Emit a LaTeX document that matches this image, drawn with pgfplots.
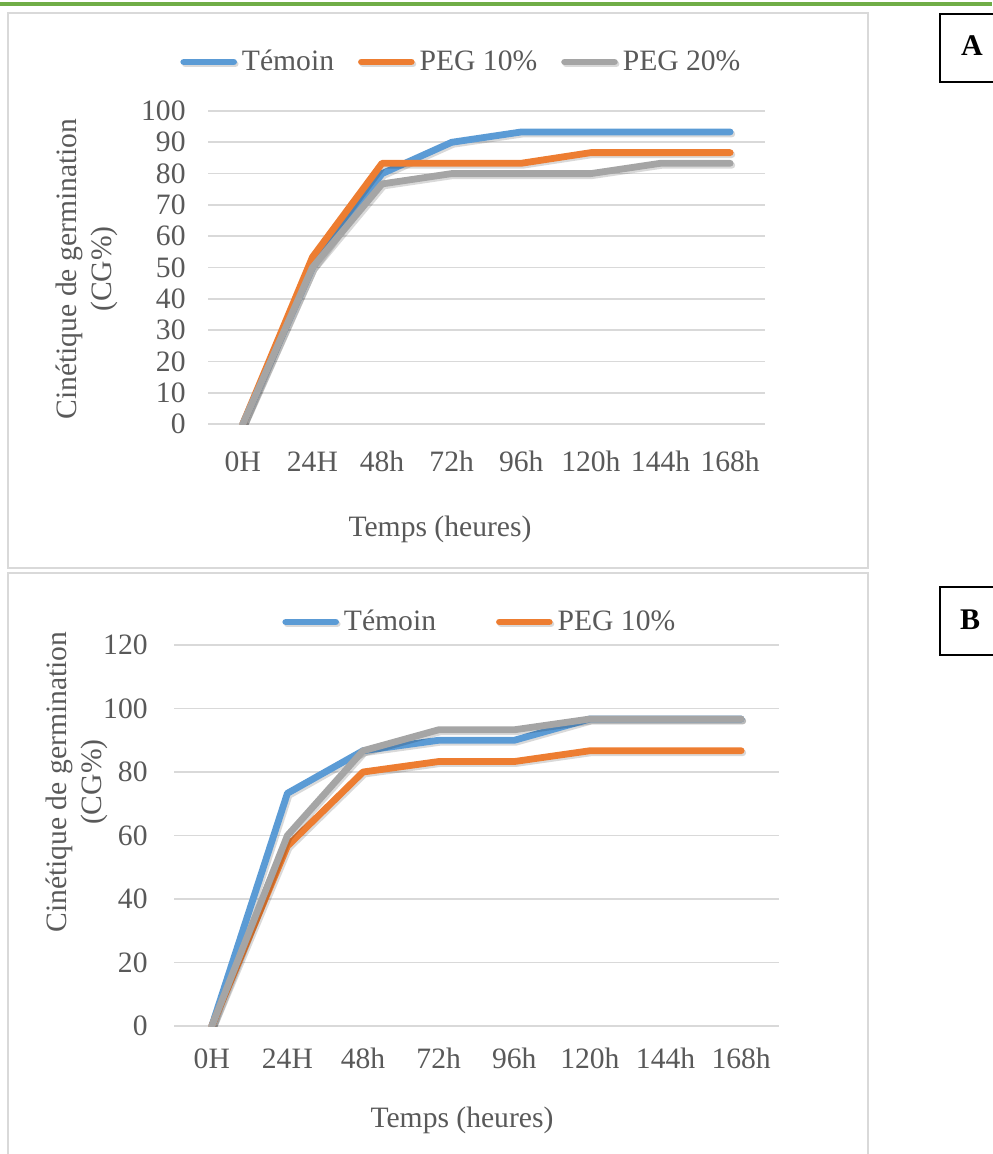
\documentclass[border=0pt]{standalone}
\usepackage{fontspec}
\setmainfont{Liberation Serif}
\usepackage{pgfplots}
\pgfplotsset{compat=1.18}
\definecolor{cblue}{HTML}{5B9BD5}
\definecolor{corange}{HTML}{ED7D31}
\definecolor{cgray}{HTML}{A5A5A5}
\definecolor{tgray}{HTML}{595959}
\definecolor{ggrid}{HTML}{D9D9D9}
\definecolor{gline}{HTML}{70AD47}

\pgfplotsset{
  excel/.style={
    scale only axis,
    xmin=-0.5, xmax=7.5, ymin=0,
    xtick={0,...,7},
    xticklabels={0H,24H,48h,72h,96h,120h,144h,168h},
    axis line style={draw=none},
    tick style={draw=none},
    ymajorgrids, grid style={ggrid, line width=0.8pt},
    /pgf/number format/assume math mode=true,
    every tick label/.append style={text=tgray},
    label style={text=tgray},
    legend style={draw=none, fill=none, inner sep=0pt, text=tgray,
      nodes={inner sep=0pt},
      /tikz/every odd column/.append style={column sep=2.5pt}},
    legend columns=-1,
    legend image code/.code={\draw[##1] (0.8pt,0pt) -- (25.7pt,0pt);},
    every axis plot/.append style={line width=3.4pt, line cap=round, line join=round,
      preaction={draw=black, opacity=0.15, transform canvas={xshift=0.8pt, yshift=-1pt}}},
  }
}

\begin{document}
\begin{tikzpicture}[font=\fontsize{14.8}{17.2}\selectfont]
\useasboundingbox (0,0) rectangle (496pt,-577pt);
\draw[gline, line width=2pt] (0,-2pt) -- (496pt,-2pt);
\draw[ggrid, line width=1pt] (4pt,-6.5pt) rectangle (434pt,-284pt);
\draw[ggrid, line width=1pt] (4pt,-590pt) -- (4pt,-286.5pt) -- (434pt,-286.5pt) -- (434pt,-590pt);
\draw[black, line width=0.75pt] (505pt,-7pt) -- (470pt,-7pt) -- (470pt,-41pt) -- (505pt,-41pt);
\node[font=\fontsize{15}{18}\selectfont\bfseries] at (486pt,-23pt) {A};
\draw[black, line width=0.75pt] (505pt,-293.5pt) -- (470pt,-293.5pt) -- (470pt,-327.5pt) -- (505pt,-327.5pt);
\node[font=\fontsize{15}{18}\selectfont\bfseries] at (485pt,-310pt) {B};

\begin{axis}[excel,
  at={(104pt,-212pt)}, anchor=south west,
  width=278.5pt, height=156.5pt,
  ymax=100, ytick={0,10,...,100},
  yticklabel style={anchor=east, inner sep=0pt, xshift=-11pt},
  xticklabel style={anchor=base, inner sep=0pt, yshift=-23.5pt},
  xlabel={Temps (heures)},
  xlabel style={at={(axis description cs:0.4165,-0.361)}, anchor=base},
  ylabel={Cinétique de germination\\(CG\%)},
  ylabel style={align=center, anchor=center, at={(axis description cs:-0.2172,0.495)}},
  legend style={at={(-0.0503,1.1565)}, anchor=west,
    /tikz/every even column/.append style={column sep=12pt}},
]
\addplot[cblue] coordinates {(0,0) (1,50) (2,80) (3,90) (4,93.3) (5,93.3) (6,93.3) (7,93.3)};
\addplot[corange] coordinates {(0,0) (1,53.3) (2,83.3) (3,83.3) (4,83.3) (5,86.7) (6,86.7) (7,86.7)};
\addplot[cgray] coordinates {(0,0) (1,50) (2,76.7) (3,80) (4,80) (5,80) (6,83.3) (7,83.3)};
\legend{Témoin, PEG 10\%, PEG 20\%}
\end{axis}

\begin{axis}[excel,
  at={(87pt,-513pt)}, anchor=south west,
  width=302.5pt, height=190.5pt,
  ymax=120, ytick={0,20,...,120},
  yticklabel style={anchor=east, inner sep=0pt, xshift=-13pt},
  xticklabel style={anchor=base, inner sep=0pt, yshift=-21pt},
  xlabel={Temps (heures)},
  xlabel style={at={(axis description cs:0.476,-0.2651)}, anchor=base},
  ylabel={Cinétique de germination\\(CG\%)},
  ylabel style={align=center, anchor=center, at={(axis description cs:-0.1603,0.640)}},
  legend style={at={(0.1785,1.0604)}, anchor=west,
    /tikz/every even column/.append style={column sep=30pt}},
]
\addplot[cblue] coordinates {(0,0) (1,73.3) (2,86.7) (3,90) (4,90) (5,96.7) (6,96.7) (7,96.7)};
\addplot[corange] coordinates {(0,0) (1,56.7) (2,80) (3,83.3) (4,83.3) (5,86.7) (6,86.7) (7,86.7)};
\addplot[cgray] coordinates {(0,0) (1,60) (2,86.7) (3,93.3) (4,93.3) (5,96.7) (6,96.7) (7,96.7)};
\legend{Témoin, PEG 10\%}
\end{axis}
\end{tikzpicture}
\end{document}
